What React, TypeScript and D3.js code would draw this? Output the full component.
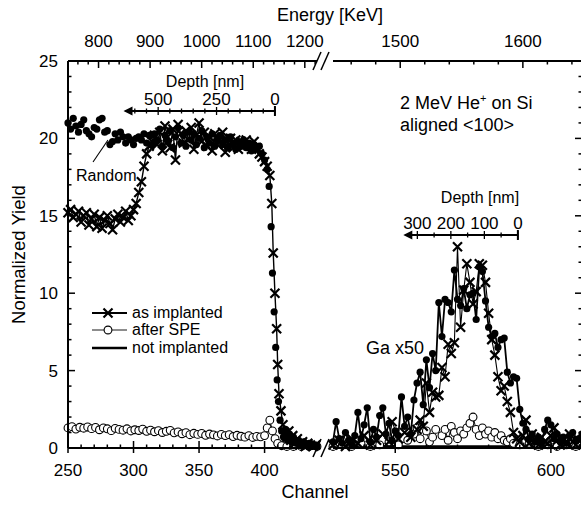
import React from "react";
import * as d3 from "d3";

type Pt = [number, number];

const W = 581;
const H = 508;

// axis ticks
const yTicks = [0, 5, 10, 15, 20, 25];
const leftChannelTicks = [250, 300, 350, 400];
const rightChannelTicks = [550, 600];
const leftEnergyTicks = [800, 900, 1000, 1100, 1200];
const rightEnergyTicks = [1500, 1600];
const leftDepthTicks = [500, 250, 0];
const rightDepthTicks = [300, 200, 100, 0];

// energy [keV] -> channel
const leftEnergyCal: Pt[] = [[800, 273.3], [1200, 430.7]];
const rightEnergyCal: Pt[] = [[1500, 551.6], [1600, 591]];
// depth [nm] -> channel
const leftDepthCal: Pt[] = [[0, 407.9], [500, 318.8]];
const rightDepthCal: Pt[] = [[0, 589.4], [300, 557.1]];

// ---- Si part (left segment) ----
const asImplantedSi: Pt[] = [
  [250,15.2],[252,15.4],[254,14.9],[256,15.1],[258,15.3],[260,14.6],[262,15.0],[264,15.2],[266,14.4],[268,14.8],
  [270,15.1],[272,14.3],[274,14.9],[276,14.2],[278,14.7],[280,15.0],[282,14.5],[284,14.1],[286,14.8],[288,15.1],
  [290,14.6],[292,14.9],[294,15.3],[296,14.7],[298,15.0],[300,15.4],[302,15.8],[304,16.5],[306,17.2],[308,18.2],
  [310,19.0],[312,19.5],[314,19.8],[316,20.2],[318,19.6],[320,20.4],[322,19.2],[324,20.8],[326,20.1],[328,19.4],
  [330,20.6],[332,18.6],[334,20.9],[336,20.3],[338,19.7],[340,20.5],[342,19.9],[344,20.7],[346,19.3],[348,20.2],
  [350,21.0],[352,19.8],[354,20.4],[356,19.5],[358,20.1],[360,19.2],[362,20.3],[364,19.6],[366,19.9],[368,20.4],
  [370,19.1],[372,19.7],[374,20.0],[376,19.4],[378,19.9],[380,19.3],[382,19.8],[384,19.5],[386,19.9],[388,19.6],
  [390,19.3],[392,19.8],[394,19.4],[396,19.0],[398,18.8],[400,18.5],[402,18.2],[404,17.6],[405.5,15.8],[406.6,12.6],
  [407.9,10.0],[409.2,7.7],[410,5.4],[411,3.5],[412.5,2.4],[414,1.5],[415.5,1.0],[417,0.7],[418.5,1.1],[420,0.5],
  [421.5,0.8],[423,0.3],[425,0.6],[427,0.2],[429,0.4],[431,0.1],[433,0.3],[435,0.2],[437,0.1],[439,0.2],
];

const randomSi: Pt[] = [
  [250,21.0],[252,20.6],[254,21.3],[256,20.8],[258,20.4],[260,20.9],[262,21.2],[264,20.5],[266,20.3],[268,20.1],
  [270,20.7],[272,20.6],[274,21.2],[276,21.3],[278,20.4],[280,20.5],[282,19.6],[284,19.8],[286,20.3],[288,19.9],
  [290,20.4],[292,20.1],[294,19.7],[296,20.1],[298,19.9],[300,19.6],[302,20.0],[304,20.1],[306,19.9],[308,20.3],
  [310,19.7],[312,20.2],[314,19.6],[316,20.3],[318,19.9],[320,20.6],[322,19.5],[324,20.2],[326,19.8],[328,20.5],
  [330,19.4],[332,20.1],[334,20.7],[336,19.7],[338,20.2],[340,19.5],[342,20.4],[344,19.9],[346,20.3],[348,19.6],
  [350,20.0],[352,20.5],[354,19.4],[356,20.1],[358,19.7],[360,20.3],[362,19.5],[364,19.9],[366,20.2],[368,19.6],
  [370,19.9],[372,19.4],[374,20.1],[376,19.7],[378,19.3],[380,19.8],[382,19.5],[384,19.9],[386,19.4],[388,19.7],
  [390,19.2],[392,19.6],[394,19.3],[396,19.5],[398,19.0],[400,18.6],[402,18.0],[403.5,16.9],[405,14.3],[406,11.3],
  [407.3,8.8],[408.5,6.5],[409.6,4.4],[410.6,3.0],[411.8,1.8],[413,1.1],[414.5,0.7],[416,1.2],[417.5,0.5],[419,0.9],
  [420.5,0.4],[422,0.7],[424,0.3],[426,0.5],[428,0.2],[430,0.4],[432,0.2],[434,0.3],[436,0.1],[438,0.2],[440,0.1],
];

const afterSpeSi: Pt[] = [
  [250,1.30],[253,1.38],[256,1.22],[259,1.34],[262,1.28],[265,1.36],[268,1.25],[271,1.33],[274,1.18],[277,1.30],
  [280,1.24],[283,1.12],[286,1.27],[289,1.20],[292,1.15],[295,1.24],[298,1.10],[301,1.18],[304,1.13],[307,1.22],
  [310,1.08],[313,1.15],[316,1.05],[319,1.12],[322,1.00],[325,1.08],[328,1.14],[331,0.98],[334,1.04],[337,0.92],
  [340,0.99],[343,0.86],[346,0.95],[349,0.88],[352,0.94],[355,0.82],[358,0.90],[361,0.85],[364,0.78],[367,0.88],
  [370,0.80],[373,0.86],[376,0.74],[379,0.82],[382,0.76],[385,0.70],[388,0.80],[391,0.68],[394,0.75],[397,0.72],
  [400,0.80],[402,1.30],[404,1.80],[406,1.10],[408,0.60],[410,0.30],[413,0.15],[417,0.10],[422,0.10],[428,0.10],
  [434,0.10],[440,0.10],
];

const notImplantedSi: Pt[] = [
  [250,1.2],[270,1.15],[290,1.1],[310,1.0],[330,0.95],[350,0.9],[370,0.82],[390,0.75],[400,0.8],[403,1.6],
  [406,1.0],[409,0.4],[412,0.15],[440,0.1],
];

// ---- Ga part (right segment, x50) ----
const randomGa: Pt[] = [
  [530,0.4],[531,1.7],[532,0.6],[533,0.3],[534,1.0],[535,0.5],[536,0.2],[537,0.8],[538,2.3],[539,0.6],
  [540,1.5],[541,2.6],[542,0.4],[543,1.2],[544,0.7],[545,2.1],[546,2.6],[547,0.9],[548,1.6],[549,0.5],
  [550,1.1],[551,0.8],[552,3.3],[553,1.4],[554,2.0],[555,0.9],[556,3.1],[557,4.2],[558,4.9],[559,2.8],
  [560,5.7],[561,3.9],[562,6.1],[563,5.0],[564,9.4],[565,7.2],[566,9.6],[567,9.4],[568,8.8],[569,11.5],
  [570,9.6],[571,9.2],[572,10.3],[573,9.0],[574,9.9],[575,10.0],[576,8.3],[577,11.7],[578,11.4],[579,9.5],
  [580,7.8],[581,7.2],[582,7.4],[583,6.5],[584,7.0],[585,7.1],[586,4.9],[587,4.2],[588,4.6],[589,4.5],
  [590,2.5],[591,1.6],[592,1.2],[593,0.6],[594,0.9],[595,0.4],[596,0.7],[597,0.3],[598,1.2],[599,1.8],
  [600,1.5],[601,0.6],[602,0.9],[603,0.4],[604,0.7],[605,0.3],[606,0.8],[607,1.0],[608,0.5],[609,0.6],[610,0.9],
];

const asImplantedGa: Pt[] = [
  [530,0.2],[532,0.5],[534,0.1],[536,0.6],[538,0.3],[540,0.8],[542,0.2],[544,0.5],[546,0.9],[548,0.4],
  [549,1.7],[551,0.6],[553,1.0],[555,0.7],[557,1.2],[558,1.8],[559,1.4],[560,4.2],[561,2.3],[562,3.6],
  [563,3.3],[564,3.4],[565,5.2],[566,4.6],[567,6.7],[568,6.1],[569,6.8],[570,13.0],[571,7.8],[572,10.2],
  [573,11.9],[574,10.7],[575,9.3],[576,10.1],[577,11.9],[578,11.8],[579,10.7],[580,8.7],[581,7.0],[582,6.0],
  [583,4.6],[584,3.7],[585,4.0],[586,3.0],[587,2.3],[588,1.0],[589,0.6],[590,0.4],[591,0.8],[592,1.8],
  [593,0.3],[594,0.9],[595,0.5],[596,0.2],[597,0.7],[598,0.4],[599,0.3],[600,0.8],[601,1.3],[602,0.5],
  [603,0.2],[604,0.6],[605,0.3],[606,0.9],[607,0.4],[608,0.2],[609,0.5],[610,0.3],
];

const afterSpeGa: Pt[] = [
  [530,0.1],[533,0.2],[536,0.1],[539,0.3],[542,0.1],[545,0.2],[548,0.4],[551,0.2],[554,0.5],[556,0.9],
  [557,1.3],[558,0.6],[560,1.1],[561,0.4],[562,0.7],[563,1.2],[565,0.8],[566,1.2],[567,0.5],[568,1.4],
  [569,1.0],[570,0.6],[571,1.1],[572,0.9],[573,1.3],[574,1.6],[575,2.0],[576,1.2],[577,0.8],[578,1.3],
  [579,0.9],[580,1.1],[581,0.7],[582,1.0],[583,0.6],[584,0.8],[585,0.5],[586,0.4],[587,0.6],[588,0.3],
  [590,0.2],[593,0.3],[596,0.1],[599,0.2],[602,0.1],[605,0.2],[608,0.1],
];

const notImplantedGa: Pt[] = [[530,0.1],[560,0.1],[590,0.1],[610,0.1]];

const FONT = "'Liberation Sans', Arial, Helvetica, sans-serif";

const xL = d3.scaleLinear().domain([250, 440]).range([68, 317]);
const xR = d3.scaleLinear().domain([530, 610]).range([333, 582]);
const y = d3.scaleLinear().domain([0, 25]).range([448, 61]);

const calScale = (cal: Pt[]) =>
  d3.scaleLinear().domain(cal.map((c) => c[0])).range(cal.map((c) => c[1]));
const eL = calScale(leftEnergyCal);
const eR = calScale(rightEnergyCal);
const dL = calScale(leftDepthCal);
const dR = calScale(rightDepthCal);

const cross = "M-4.5,-4.5L4.5,4.5M-4.5,4.5L4.5,-4.5";

function Series({ x, pts, kind, lineW }: { x: d3.ScaleLinear<number, number>; pts: Pt[]; kind: string; lineW: number }) {
  const line = d3.line<Pt>().x((d) => x(d[0])).y((d) => y(d[1]));
  return (
    <g>
      {lineW > 0 && <path d={line(pts) || ""} fill="none" stroke="#000" strokeWidth={lineW} />}
      {kind === "cross" &&
        pts.map((d, i) => (
          <path key={i} d={cross} transform={`translate(${x(d[0])},${y(d[1])})`} stroke="#000" strokeWidth={2.2} fill="none" />
        ))}
      {kind === "dot" && pts.map((d, i) => <circle key={i} cx={x(d[0])} cy={y(d[1])} r={3.6} fill="#000" />)}
      {kind === "open" &&
        pts.map((d, i) => <circle key={i} cx={x(d[0])} cy={y(d[1])} r={3.9} fill="#fff" stroke="#000" strokeWidth={1.1} />)}
    </g>
  );
}

function DepthAxis({ x, cal, ticks, maxDepth, yPos, titleX, titleY }: any) {
  const x0 = x(cal(0));
  const x1 = x(cal(maxDepth));
  const minor = d3.range(0, maxDepth, 50);
  return (
    <g fontFamily={FONT}>
      <text x={titleX} y={titleY} fontSize={16} textAnchor="middle">Depth [nm]</text>
      {ticks.map((t: number) => (
        <text key={t} x={x(cal(t))} y={yPos - 6} fontSize={17} textAnchor="middle">{t}</text>
      ))}
      <line x1={x1} x2={x0} y1={yPos} y2={yPos} stroke="#000" strokeWidth={2} />
      <path d={`M${x1 - 2},${yPos}l9,-4.5v9z`} fill="#000" />
      <line x1={x0} x2={x0} y1={yPos - 5} y2={yPos + 5} stroke="#000" strokeWidth={2} />
      {minor.map((t: number) => (
        <line key={t} x1={x(cal(t))} x2={x(cal(t))} y1={yPos - (ticks.includes(t) ? 4 : 2.5)} y2={yPos + (ticks.includes(t) ? 4 : 2.5)} stroke="#000" strokeWidth={1.3} />
      ))}
    </g>
  );
}

export default function App() {
  const left = 68, right = 582, top = 61, bottom = 448;
  const segL = xL.range();
  const segR = xR.range();
  const ax = { stroke: "#000", strokeWidth: 2 };
  const tk = { stroke: "#000", strokeWidth: 1.5 };

  const yMinor = d3.range(0, 26, 1);
  const chMinorL = d3.range(250, 441, 10);
  const chMinorR = d3.range(530, 611, 10);
  const eMinorL = d3.range(740, 1221, 20).filter((e) => xL(eL(e)) >= left && eL(e) <= 440);
  const eMinorR = d3.range(1460, 1641, 20).filter((e) => eR(e) >= 530 && eR(e) <= 610);

  return (
    <svg width={W} height={H} style={{ position: "absolute", left: 0, top: 0, background: "#fff" }} fontFamily={FONT}>
      <rect width={W} height={H} fill="#fff" />

      {/* data */}
      <Series x={xL} pts={notImplantedSi} kind="none" lineW={2.4} />
      <Series x={xL} pts={afterSpeSi} kind="open" lineW={0.9} />
      <Series x={xL} pts={randomSi} kind="dot" lineW={0} />
      <Series x={xL} pts={asImplantedSi} kind="cross" lineW={1.4} />

      <Series x={xR} pts={notImplantedGa} kind="none" lineW={2.4} />
      <Series x={xR} pts={afterSpeGa} kind="open" lineW={0.9} />
      <Series x={xR} pts={randomGa} kind="dot" lineW={1.8} />
      <Series x={xR} pts={asImplantedGa} kind="cross" lineW={1.1} />

      {/* frame */}
      <line x1={left} x2={left} y1={top} y2={bottom} {...ax} />
      <line x1={right} x2={right} y1={top} y2={bottom} {...ax} />
      <line x1={segL[0]} x2={segL[1]} y1={bottom} y2={bottom} {...ax} />
      <line x1={segR[0]} x2={segR[1]} y1={bottom} y2={bottom} {...ax} />
      <line x1={segL[0]} x2={segL[1]} y1={top} y2={top} {...ax} />
      <line x1={segR[0]} x2={segR[1]} y1={top} y2={top} {...ax} />
      {/* break marks */}
      {[bottom, top].map((yy) => (
        <g key={yy}>
          <line x1={313} x2={321} y1={yy + 9} y2={yy - 9} stroke="#000" strokeWidth={1.5} />
          <line x1={321} x2={329} y1={yy + 9} y2={yy - 9} stroke="#000" strokeWidth={1.5} />
        </g>
      ))}

      {/* y axes */}
      {yMinor.map((v) => {
        const major = v % 5 === 0;
        const len = major ? 7 : 3.5;
        return (
          <g key={v}>
            <line x1={left} x2={left + len} y1={y(v)} y2={y(v)} {...tk} />
            <line x1={right - len} x2={right} y1={y(v)} y2={y(v)} {...tk} />
          </g>
        );
      })}
      {yTicks.map((v) => (
        <text key={v} x={58} y={y(v) + 6} fontSize={17} textAnchor="end">{v}</text>
      ))}
      <text transform={`translate(25,${(top + bottom) / 2}) rotate(-90)`} fontSize={18.5} textAnchor="middle">Normalized Yield</text>

      {/* bottom channel axis */}
      {chMinorL.map((c) => (
        <line key={"l" + c} x1={xL(c)} x2={xL(c)} y1={bottom - (c % 50 === 0 ? 7 : 3.5)} y2={bottom + (c % 50 === 0 ? 5 : 0)} {...tk} />
      ))}
      {chMinorR.map((c) => (
        <line key={"r" + c} x1={xR(c)} x2={xR(c)} y1={bottom - (c % 50 === 0 ? 7 : 3.5)} y2={bottom + (c % 50 === 0 ? 5 : 0)} {...tk} />
      ))}
      {leftChannelTicks.map((c) => (
        <text key={c} x={xL(c)} y={476} fontSize={17} textAnchor="middle">{c}</text>
      ))}
      {rightChannelTicks.map((c) => (
        <text key={c} x={xR(c)} y={476} fontSize={17} textAnchor="middle">{c}</text>
      ))}
      <text x={315} y={498} fontSize={18} textAnchor="middle">Channel</text>

      {/* top energy axis */}
      {eMinorL.map((e) => (
        <line key={"el" + e} x1={xL(eL(e))} x2={xL(eL(e))} y1={top} y2={top + (e % 100 === 0 ? 7 : 3.5)} {...tk} />
      ))}
      {eMinorR.map((e) => (
        <line key={"er" + e} x1={xR(eR(e))} x2={xR(eR(e))} y1={top} y2={top + (e % 100 === 0 ? 7 : 3.5)} {...tk} />
      ))}
      {leftEnergyTicks.map((e) => (
        <text key={e} x={xL(eL(e))} y={47} fontSize={17} textAnchor="middle">{e}</text>
      ))}
      {rightEnergyTicks.map((e) => (
        <text key={e} x={xR(eR(e))} y={47} fontSize={17} textAnchor="middle">{e}</text>
      ))}
      <text x={330} y={21} fontSize={18} textAnchor="middle">Energy [KeV]</text>

      {/* depth scales */}
      <DepthAxis x={xL} cal={dL} ticks={leftDepthTicks} maxDepth={640} yPos={111} titleX={205} titleY={87} />
      <DepthAxis x={xR} cal={dR} ticks={rightDepthTicks} maxDepth={336} yPos={235} titleX={480} titleY={203} />

      {/* annotations */}
      <text x={400} y={109} fontSize={18}>
        2 MeV He<tspan dy={-7} fontSize={11}>+</tspan><tspan dy={7}> on Si</tspan>
      </text>
      <text x={400} y={131} fontSize={18}>aligned &lt;100&gt;</text>
      <text x={366} y={354} fontSize={18}>Ga x50</text>
      <text x={76} y={181} fontSize={16}>Random</text>
      <line x1={93} y1={162} x2={108} y2={140} stroke="#000" strokeWidth={1.1} />

      {/* legend */}
      <line x1={92} x2={127} y1={313} y2={313} stroke="#000" strokeWidth={2} />
      <path d={cross} transform="translate(108,313)" stroke="#000" strokeWidth={2.2} fill="none" />
      <text x={132} y={318} fontSize={16}>as implanted</text>
      <line x1={92} x2={127} y1={330} y2={330} stroke="#000" strokeWidth={0.9} />
      <circle cx={108} cy={330} r={3.9} fill="#fff" stroke="#000" strokeWidth={1.1} />
      <text x={132} y={335} fontSize={16}>after SPE</text>
      <line x1={92} x2={127} y1={348} y2={348} stroke="#000" strokeWidth={2.4} />
      <text x={132} y={353} fontSize={16}>not implanted</text>
    </svg>
  );
}
